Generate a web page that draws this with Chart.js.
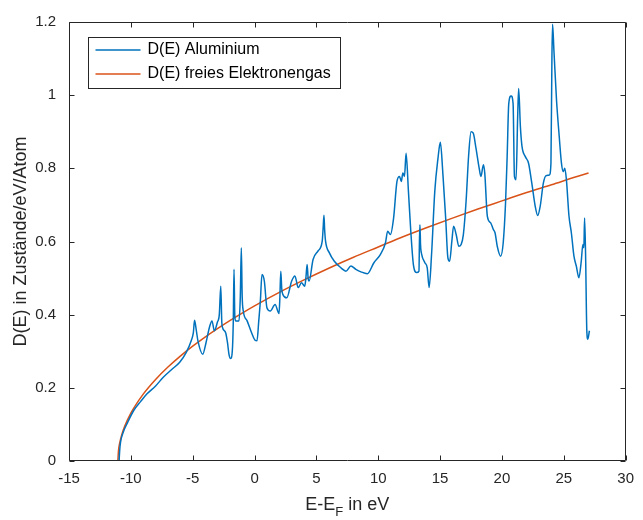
<!DOCTYPE html>
<html>
<head>
<meta charset="utf-8">
<script src="https://cdn.jsdelivr.net/npm/chart.js@4.4.0/dist/chart.umd.min.js"></script>
<style>
  html, body { margin: 0; padding: 0; background: #ffffff; }
  #wrap { width: 643px; height: 520px; }
</style>
</head>
<body>
<div id="wrap"><canvas id="c" width="643" height="520"></canvas></div>
<script>
// ---- Data ----
const xTickValues = [-15, -10, -5, 0, 5, 10, 15, 20, 25, 30];
const yTickValues = [0, 0.2, 0.4, 0.6, 0.8, 1, 1.2];
const yTickLabels = ['0', '0.2', '0.4', '0.6', '0.8', '1', '1.2'];
const seriesNames = ['D(E) Aluminium', 'D(E) freies Elektronengas'];

// D(E) Aluminium: energies (eV) and values
const aluE = [-10.95,-10.9,-10.83,-10.6,-10.31,-9.77,-9.2,-8.71,-8.0,-7.38,-6.7,-6.05,-5.52,-5.12,-4.95,-4.85,-4.72,-4.58,-4.19,-3.92,-3.65,-3.44,-3.25,-3.0,-2.85,-2.73,-2.65,-2.59,-2.33,-2.19,-2.06,-1.93,-1.8,-1.72,-1.66,-1.6,-1.53,-1.26,-1.15,-1.07,-1.0,-0.91,-0.6,-0.2,0.05,0.2,0.34,0.47,0.6,0.79,1.0,1.27,1.66,1.98,2.05,2.12,2.2,2.28,2.6,3.0,3.26,3.53,3.79,4.06,4.15,4.25,4.33,4.41,4.73,5.13,5.47,5.55,5.61,5.67,5.74,6.05,6.45,6.99,7.39,7.79,8.19,8.6,9.12,9.65,10.18,10.58,10.76,10.98,11.24,11.51,11.72,11.86,11.99,12.12,12.25,12.44,12.63,12.84,13.11,13.29,13.33,13.37,13.42,13.51,13.77,13.96,14.11,14.31,14.57,14.83,15.02,15.23,15.45,15.63,15.77,15.95,16.09,16.3,16.51,16.7,16.88,17.1,17.31,17.5,17.68,17.9,18.16,18.3,18.5,18.61,18.82,19.09,19.3,19.44,19.62,19.89,20.1,20.29,20.42,20.55,20.74,20.9,21.01,21.14,21.27,21.35,21.49,21.62,21.89,22.15,22.41,22.69,22.89,23.09,23.35,23.56,23.83,23.96,24.04,24.09,24.2,24.41,24.63,24.81,24.95,25.08,25.21,25.42,25.61,25.82,26.01,26.22,26.41,26.54,26.62,26.68,26.76,26.86,26.94,27.07];
const aluD = [0,0.03,0.052,0.08,0.102,0.138,0.163,0.183,0.205,0.229,0.25,0.27,0.297,0.329,0.35,0.385,0.36,0.329,0.292,0.324,0.365,0.383,0.356,0.38,0.4,0.478,0.38,0.365,0.35,0.324,0.29,0.28,0.3,0.38,0.524,0.4,0.383,0.383,0.45,0.583,0.45,0.41,0.383,0.347,0.33,0.329,0.383,0.438,0.51,0.492,0.419,0.41,0.428,0.403,0.45,0.519,0.47,0.456,0.446,0.492,0.506,0.474,0.487,0.478,0.5,0.537,0.5,0.492,0.551,0.574,0.601,0.64,0.672,0.63,0.601,0.569,0.546,0.528,0.519,0.533,0.524,0.517,0.512,0.542,0.565,0.596,0.628,0.619,0.664,0.764,0.778,0.764,0.787,0.778,0.841,0.737,0.628,0.537,0.515,0.519,0.6,0.646,0.59,0.565,0.542,0.528,0.474,0.565,0.737,0.828,0.871,0.782,0.664,0.555,0.546,0.601,0.642,0.619,0.587,0.592,0.619,0.71,0.837,0.9,0.896,0.855,0.8,0.778,0.81,0.787,0.669,0.651,0.633,0.624,0.587,0.56,0.596,0.705,0.832,0.977,0.998,0.977,0.778,0.769,0.941,1.018,0.914,0.86,0.832,0.814,0.76,0.696,0.671,0.696,0.76,0.78,0.782,0.814,1.105,1.194,1.123,0.987,0.887,0.814,0.791,0.8,0.769,0.669,0.624,0.56,0.533,0.501,0.546,0.592,0.583,0.664,0.565,0.356,0.333,0.356];

// D(E) free electron gas: energies (eV) and values
const freeE = [-11.05,-11,-10.9,-10.75,-10.5,-10,-9,-8,-7,-6,-5,-4,-3,-2,-1,0,2,4,6,8,10,12,14,16,18,20,22,24,26,27];
const freeD = [0,0.0285,0.0494,0.0699,0.0946,0.1308,0.1827,0.2229,0.2568,0.2867,0.3139,0.3388,0.362,0.3839,0.4045,0.4242,0.461,0.495,0.527,0.557,0.585,0.613,0.639,0.664,0.688,0.711,0.734,0.755,0.777,0.787];

const colors = ['#0072BD', '#D95319'];
const axisColor = '#262626';
const fontFamily = '"Liberation Sans", Arial, Helvetica, sans-serif';

const toPoints = (xs, ys) => xs.map((x, i) => ({ x: x, y: ys[i] }));

// ---- Plugin: box, inward ticks, titles, legend ----
const matlabDecor = {
  id: 'matlabDecor',
  afterDatasetsDraw(chart) {
    const ctx = chart.ctx;
    const a = chart.chartArea;
    const xs = chart.scales.x, ys = chart.scales.y;
    ctx.save();
    ctx.strokeStyle = axisColor;
    ctx.lineWidth = 1;
    const L = Math.round(a.left) + 0.5, R = Math.round(a.right) - 0.5;
    const T = Math.round(a.top) + 0.5, B = Math.round(a.bottom) - 0.5;
    ctx.beginPath();
    ctx.rect(L, T, R - L, B - T);
    ctx.stroke();
    const tl = 5;
    ctx.beginPath();
    xs.ticks.forEach(t => {
      const px = Math.round(xs.getPixelForValue(t.value)) + 0.5;
      ctx.moveTo(px, B); ctx.lineTo(px, B - tl);
      ctx.moveTo(px, T); ctx.lineTo(px, T + tl);
    });
    ys.ticks.forEach(t => {
      const py = Math.round(ys.getPixelForValue(t.value)) + 0.5;
      ctx.moveTo(L, py); ctx.lineTo(L + tl, py);
      ctx.moveTo(R, py); ctx.lineTo(R - tl, py);
    });
    ctx.stroke();

    // Legend
    const lx = 88.5, ly = 37.5, lw = 252, lh = 51;
    ctx.fillStyle = '#ffffff';
    ctx.fillRect(lx, ly, lw, lh);
    ctx.strokeStyle = axisColor;
    ctx.strokeRect(lx, ly, lw, lh);
    ctx.font = '16px ' + fontFamily;
    ctx.textBaseline = 'middle';
    ctx.textAlign = 'left';
    seriesNames.forEach((name, i) => {
      const yy = ly + 12.5 + i * 24;
      ctx.strokeStyle = colors[i];
      ctx.lineWidth = 1.5;
      ctx.beginPath();
      ctx.moveTo(lx + 7, yy); ctx.lineTo(lx + 52, yy);
      ctx.stroke();
      ctx.fillStyle = '#000000';
      ctx.fillText(name, lx + 59, yy);
    });

    // Y axis title
    ctx.fillStyle = axisColor;
    ctx.font = '18px ' + fontFamily;
    ctx.save();
    ctx.translate(21, (a.top + a.bottom) / 2);
    ctx.rotate(-Math.PI / 2);
    ctx.textAlign = 'center';
    ctx.textBaseline = 'middle';
    ctx.fillText('D(E) in Zustände/eV/Atom', 0, 0);
    ctx.restore();

    // X axis title with subscript
    const big = '18px ' + fontFamily, small = '13px ' + fontFamily;
    ctx.textBaseline = 'alphabetic';
    ctx.textAlign = 'left';
    ctx.font = big; const w1 = ctx.measureText('E-E').width;
    ctx.font = small; const w2 = ctx.measureText('F').width;
    ctx.font = big; const w3 = ctx.measureText(' in eV').width;
    const total = w1 + w2 + w3;
    let sx = (a.left + a.right) / 2 - total / 2;
    const base = 510;
    ctx.font = big; ctx.fillText('E-E', sx, base); sx += w1;
    ctx.font = small; ctx.fillText('F', sx, base + 6); sx += w2;
    ctx.font = big; ctx.fillText(' in eV', sx, base);
    ctx.restore();
  }
};

new Chart(document.getElementById('c'), {
  type: 'line',
  data: {
    datasets: [
      { label: seriesNames[0], data: toPoints(aluE, aluD), borderColor: colors[0], borderWidth: 1.5, pointRadius: 0, fill: false, cubicInterpolationMode: 'monotone' },
      { label: seriesNames[1], data: toPoints(freeE, freeD), borderColor: colors[1], borderWidth: 1.5, pointRadius: 0, fill: false, cubicInterpolationMode: 'monotone' }
    ]
  },
  options: {
    responsive: false,
    animation: false,
    devicePixelRatio: 1,
    layout: { padding: { top: 20, right: 10, left: 0, bottom: 0 } },
    plugins: { legend: { display: false }, tooltip: { enabled: false } },
    scales: {
      x: {
        type: 'linear', min: -15, max: 30,
        afterBuildTicks: s => { s.ticks = xTickValues.map(v => ({ value: v })); },
        afterFit: s => { s.height = 59; },
        grid: { display: false, drawTicks: false },
        border: { display: false },
        ticks: { color: axisColor, font: { size: 15, family: fontFamily }, padding: 9, maxRotation: 0, autoSkip: false }
      },
      y: {
        type: 'linear', min: 0, max: 1.2,
        afterBuildTicks: s => { s.ticks = yTickValues.map(v => ({ value: v })); },
        afterFit: s => { s.width = 69; },
        grid: { display: false, drawTicks: false },
        border: { display: false },
        ticks: { color: axisColor, font: { size: 15, family: fontFamily }, padding: 13, autoSkip: false,
          callback: (v, i) => yTickLabels[i] }
      }
    }
  },
  plugins: [matlabDecor]
});
</script>
</body>
</html>
